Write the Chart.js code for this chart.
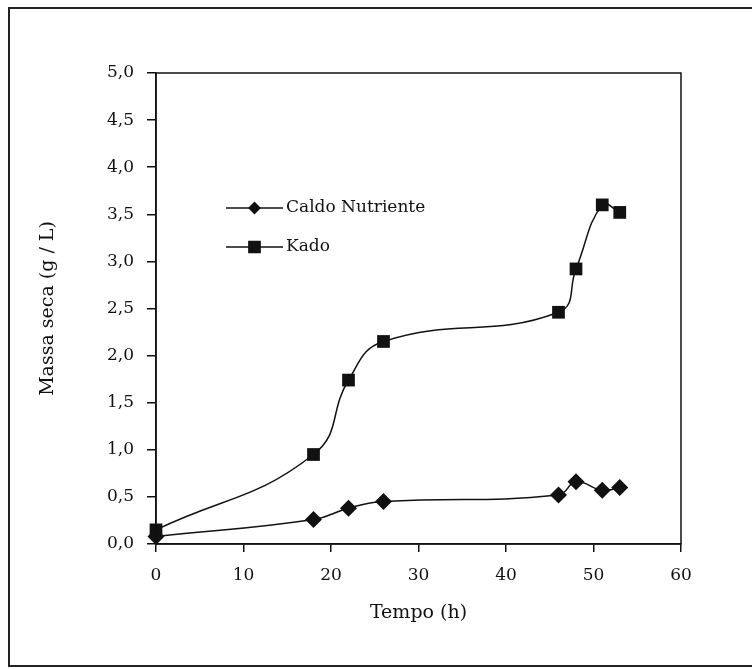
<!DOCTYPE html>
<html>
<head>
  <title>Massa seca x Tempo</title>
  <script src="https://cdn.jsdelivr.net/npm/chart.js"></script>
  <style>
    body { margin: 0; background: #fff; }
    #wrap { width: 752px; height: 669px; }
  </style>
</head>
<body>
  <div id="wrap"><canvas id="massaChart"></canvas></div>

  <script>
    // values
    const hours = [0, 18, 22, 26, 46, 48, 51, 53];
    const caldoNutriente = [0.08, 0.26, 0.38, 0.45, 0.52, 0.66, 0.57, 0.60];
    const kado = [0.15, 0.95, 1.74, 2.15, 2.46, 2.92, 3.60, 3.52];
    const seriesNames = ['Caldo Nutriente', 'Kado'];
    const yTickValues = [0, 0.5, 1, 1.5, 2, 2.5, 3, 3.5, 4, 4.5, 5];
    const xTickValues = [0, 10, 20, 30, 40, 50, 60];

    const serif = 'DejaVu Serif';
    const ink = '#111';

    function points(ys) {
      return hours.map((h, i) => ({ x: h, y: ys[i] }));
    }

    // outer frame, plot box and the in-plot legend
    const decorations = {
      id: 'decorations',
      afterDraw(chart) {
        const ctx = chart.ctx;
        const a = chart.chartArea;
        ctx.save();
        ctx.strokeStyle = '#222';
        ctx.lineWidth = 2;
        ctx.strokeRect(9, 8, 800, 658);

        ctx.strokeStyle = ink;
        ctx.lineWidth = 1.5;
        ctx.strokeRect(a.left, a.top, a.right - a.left, a.bottom - a.top);

        // legend
        const items = [
          { label: seriesNames[0], style: 'rectRot', r: 5.5, y: a.top + 135 },
          { label: seriesNames[1], style: 'rect', r: 8, y: a.top + 174 }
        ];
        const x0 = a.left + 70, x1 = a.left + 127;
        ctx.font = '17px "' + serif + '"';
        ctx.textBaseline = 'middle';
        ctx.fillStyle = ink;
        items.forEach(it => {
          ctx.beginPath();
          ctx.moveTo(x0, it.y);
          ctx.lineTo(x1, it.y);
          ctx.lineWidth = 1.3;
          ctx.stroke();
          Chart.helpers.drawPoint(ctx, { pointStyle: it.style, radius: it.r, rotation: 0, borderWidth: 1 }, (x0 + x1) / 2, it.y);
          ctx.fill();
          ctx.fillText(it.label, x1 + 3, it.y);
        });
        ctx.restore();
      }
    };

    const ctx = document.getElementById('massaChart').getContext('2d');
    new Chart(ctx, {
      type: 'line',
      data: {
        datasets: [
          {
            label: seriesNames[0],
            data: points(caldoNutriente),
            borderColor: ink,
            backgroundColor: ink,
            borderWidth: 1.5,
            pointStyle: 'rectRot',
            pointRadius: 8.5,
            pointBorderWidth: 0,
            tension: 0.45,
            clip: false
          },
          {
            label: seriesNames[1],
            data: points(kado),
            borderColor: ink,
            backgroundColor: ink,
            borderWidth: 1.5,
            pointStyle: 'rect',
            pointRadius: 9,
            pointBorderWidth: 0,
            tension: 0.45,
            clip: false
          }
        ]
      },
      options: {
        responsive: true,
        maintainAspectRatio: false,
        animation: false,
        layout: { padding: { top: 73, right: 71, left: 0, bottom: 0 } },
        plugins: {
          legend: { display: false },
          tooltip: { enabled: false }
        },
        scales: {
          x: {
            type: 'linear',
            min: 0,
            max: 60,
            afterFit(scale) { scale.height = 125; },
            afterBuildTicks(scale) { scale.ticks = xTickValues.map(v => ({ value: v })); },
            grid: { drawOnChartArea: false, drawTicks: true, tickLength: 8, color: ink, lineWidth: 1.5 },
            border: { display: true, color: ink, width: 1.5 },
            ticks: {
              color: ink,
              padding: 13,
              font: { family: serif, size: 17 },
              callback: v => String(v)
            },
            title: {
              display: true,
              text: 'Tempo (h)',
              color: ink,
              font: { family: serif, size: 19 },
              padding: { top: 0, bottom: 45 }
            }
          },
          y: {
            type: 'linear',
            min: 0,
            max: 5,
            afterFit(scale) { scale.width = 156; },
            afterBuildTicks(scale) { scale.ticks = yTickValues.map(v => ({ value: v })); },
            grid: { drawOnChartArea: false, drawTicks: true, tickLength: 9, color: ink, lineWidth: 1.5 },
            border: { display: true, color: ink, width: 1.5 },
            ticks: {
              color: ink,
              padding: 13,
              font: { family: serif, size: 17 },
              callback: v => v.toFixed(1).replace('.', ',')
            },
            title: {
              display: true,
              text: 'Massa seca (g / L)',
              color: ink,
              font: { family: serif, size: 19 },
              padding: { top: 37, bottom: 0 }
            }
          }
        }
      },
      plugins: [decorations]
    });
  </script>
</body>
</html>
